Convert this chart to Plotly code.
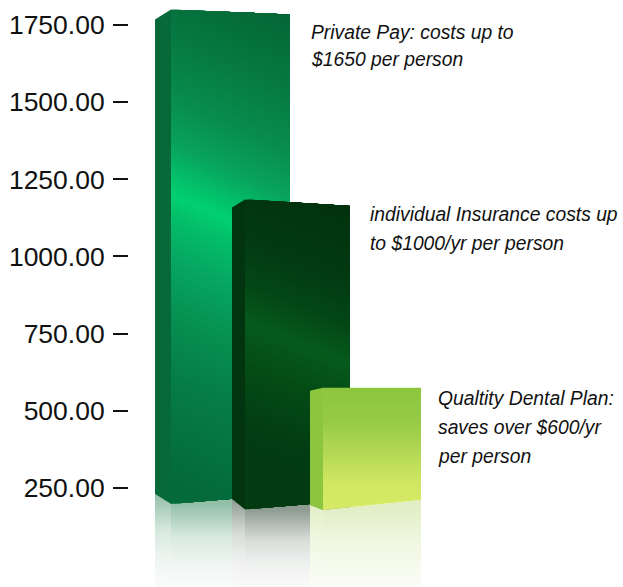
import plotly.graph_objects as go

# ---- data ----
categories = ["Private Pay", "Individual Insurance", "Quality Dental Plan"]
values = [1800, 1185, 575]
tick_values = [250, 500, 750, 1000, 1250, 1500, 1750]
tick_labels = ["250.00", "500.00", "750.00", "1000.00", "1250.00", "1500.00", "1750.00"]
note_lines = [
    ["Private Pay: costs up to", "$1650 per person"],
    ["individual Insurance costs up", "to $1000/yr per person"],
    ["Qualtity Dental Plan:", "saves over $600/yr", "per person"],
]

# ---- layout and styling ----
W, H = 623, 587
PX_PER_UNIT = 77.17 / 250
Y_TOP = 250 + 488 / PX_PER_UNIT          # value at the top edge of the page
Y_BOTTOM = 250 - (H - 488) / PX_PER_UNIT # value at the bottom edge of the page
LEFT = 129
STRIP = 3


def u(px):
    """pixel offset -> value units"""
    return px / PX_PER_UNIT


def val_at(px_y):
    return 250 + (488 - px_y) / PX_PER_UNIT


SHAPE = [
    dict(xl=155, xf=171, xr=290, side=10, tilt=5, bf=504, bl=494, br=494),
    dict(xl=232, xf=245, xr=350, side=8, tilt=6.5, bf=509.5, bl=499, br=500.5),
    dict(xl=310, xf=323, xr=421, side=3, tilt=0, bf=510, bl=505, br=500),
]
# front gradients: stops are (pixel row at the face's left edge, colour); "slope" tilts them
FACE = [
    dict(side="#05693a", slope=0.45,
         stops=[(-36, "#046636"), (40, "#067a42"), (100, "#088d4e"), (145, "#08a35d"), (175, "#03bf69"),
                (195, "#00d070"), (215, "#03bf69"), (260, "#06a662"), (320, "#068e50"), (380, "#067c47"),
                (480, "#046a3a")]),
    dict(side="#02340f", slope=0.4,
         stops=[(164, "#02320d"), (240, "#023a12"), (285, "#034716"), (322, "#065a1c"), (365, "#044c16"),
                (430, "#023c12"), (510, "#033a12")]),
    dict(side="#8cc63f", slope=0,
         stops=[(388, "#8cc63f"), (422, "#97ca47"), (483, "#d0e762"), (510, "#d6ea66")]),
]
GLASS = [
    [[0, "#93bfa7"], [0.4, "#d8e9e0"], [0.7, "#eef5f1"], [1, "#fafcfb"]],
    [[0, "#8e9c92"], [0.4, "#d8ddd9"], [0.7, "#eff1ef"], [1, "#f9faf9"]],
    [[0, "#e2efc6"], [0.4, "#eff6e0"], [0.7, "#f6faec"], [1, "#fbfdf7"]],
]
NOTE_X = [310, 369, 437]
NOTE_Y = [[32, 60], [215, 243], [398, 427, 456]]

fig = go.Figure()


def face(xs, ys, color=None, grad=None, name=""):
    kw = dict(fillgradient=grad) if grad else dict(fillcolor=color)
    fig.add_trace(go.Scatter(x=xs + xs[:1], y=ys + ys[:1], mode="lines", line=dict(width=0),
                             fill="toself", hoverinfo="skip", showlegend=False, name=name, **kw))


def lerp(a, b, f):
    return a + (b - a) * f


# reflections first, so that bars sit on them
for cat, s, glass in zip(categories, SHAPE, GLASS):
    floor = val_at(H)
    base_f, base_l, base_r = val_at(s["bf"]), val_at(s["bl"]), val_at(s["br"])
    face([s["xf"], s["xr"], s["xr"], s["xf"]], [base_f, base_r, floor, floor],
         grad=dict(type="vertical", colorscale=glass, start=base_f, stop=floor), name=cat + " reflection")
    face([s["xl"], s["xf"], s["xf"], s["xl"]], [base_l, base_f, floor, floor],
         grad=dict(type="vertical", colorscale=glass, start=base_l, stop=floor), name=cat + " reflection")

# bars: the front face is painted as overlapping strips so its gradient can run on a slant
for cat, v, s, f in zip(categories, values, SHAPE, FACE):
    base_f, base_l, base_r = val_at(s["bf"]), val_at(s["bl"]), val_at(s["br"])
    top_r = v - u(s["tilt"])
    top_l = v - u(s["side"])
    t0, t1 = f["stops"][0][0], f["stops"][-1][0]
    scale = [[(t - t0) / (t1 - t0), c] for t, c in f["stops"]]
    width = s["xr"] - s["xf"]
    offsets = list(range(0, width, STRIP)) if f["slope"] else [0]
    for dx in offsets:
        frac = dx / width
        x = s["xf"] + dx
        shift = f["slope"] * dx
        face([x, s["xr"], s["xr"], x],
             [lerp(v, top_r, frac), top_r, base_r, lerp(base_f, base_r, frac)],
             grad=dict(type="vertical", colorscale=scale, start=val_at(t0 + shift), stop=val_at(t1 + shift)),
             name=cat)
    face([s["xl"], s["xf"], s["xf"], s["xl"]], [top_l, v, base_f, base_l], color=f["side"], name=cat)

for lines, nx, nys in zip(note_lines, NOTE_X, NOTE_Y):
    for line, ny in zip(lines, nys):
        fig.add_annotation(x=nx, y=1 - ny / H, xref="x", yref="paper", xanchor="left", yanchor="middle",
                           align="left", showarrow=False, text=line, borderpad=0,
                           font=dict(family="Liberation Sans", size=19.3, color="#111111", style="italic"))

fig.update_layout(
    width=W, height=H, margin=dict(l=LEFT, r=0, t=0, b=0),
    paper_bgcolor="white", plot_bgcolor="white", showlegend=False,
    xaxis=dict(range=[LEFT, W], visible=False, fixedrange=True),
    yaxis=dict(range=[Y_BOTTOM, Y_TOP], tickmode="array", tickvals=tick_values, ticktext=tick_labels,
               ticks="outside", ticklen=15, tickwidth=2, tickcolor="#111111", showgrid=False,
               zeroline=False, showline=False, ticklabelstandoff=3, fixedrange=True,
               tickfont=dict(family="Liberation Sans", size=26.5, color="#111111")),
)
fig.write_html("out.html", config={"displayModeBar": False},
               post_script="document.body.style.margin='0';document.documentElement.style.overflow='hidden';")
